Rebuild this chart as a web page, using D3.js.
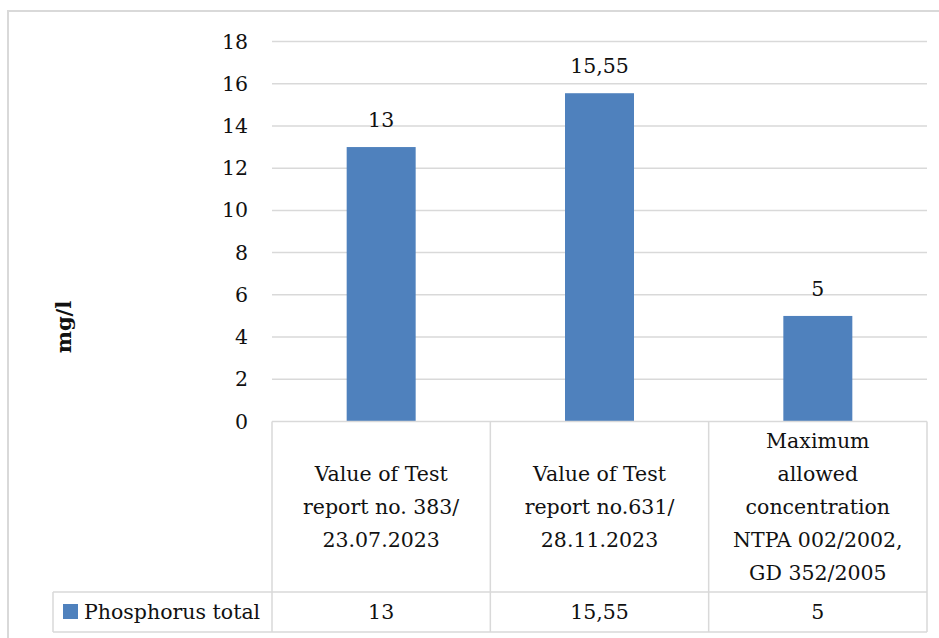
<!DOCTYPE html>
<html>
<head>
<meta charset="utf-8">
<script src="https://cdn.jsdelivr.net/npm/d3@7"></script>
<style>
  html, body { margin: 0; padding: 0; background: #fff; }
  svg { display: block; }
  text { font-family: "DejaVu Serif", "Liberation Serif", serif; fill: #111; }
</style>
</head>
<body>
<svg id="chart" width="939" height="638"></svg>
<script>
// Phosphorus total (mg/l) per measurement
const categories = [
  ["Value of Test", "report no. 383/", "23.07.2023"],
  ["Value of Test", "report no.631/", "28.11.2023"],
  ["Maximum", "allowed", "concentration", "NTPA 002/2002,", "GD 352/2005"]
];
const seriesName = "Phosphorus total";
const values = [13, 15.55, 5];
const yTicks = [0, 2, 4, 6, 8, 10, 12, 14, 16, 18];
const yTitle = "mg/l";

const svg = d3.select("#chart");
const W = 939, H = 638;
const gridColor = "#d9d9d9";
const barColor = "#4f81bd";
const fs = 20.5;

const locale = d3.formatLocale({ decimal: ",", thousands: ".", grouping: [3], currency: ["", ""] });
const fmt = locale.format("~g");

const plotLeft = 272, plotRight = 927, plotTop = 41.5, plotBottom = 421.5;
const tableMid = 592, tableBottom = 632, legendLeft = 53;

const x = d3.scaleBand().domain(d3.range(values.length)).range([plotLeft, plotRight]).padding(0);
const y = d3.scaleLinear().domain([0, 18]).range([plotBottom, plotTop]);
const barW = x.bandwidth() * 0.316;

// outer frame
svg.append("rect")
  .attr("x", 8).attr("y", 11).attr("width", W).attr("height", H)
  .attr("fill", "none").attr("stroke", gridColor).attr("stroke-width", 2);

// gridlines
svg.append("g").selectAll("line").data(yTicks.filter(d => d > 0)).join("line")
  .attr("x1", plotLeft).attr("x2", plotRight)
  .attr("y1", d => y(d)).attr("y2", d => y(d))
  .attr("stroke", gridColor).attr("stroke-width", 1.5);

// y axis labels
const yAxis = d3.axisLeft(y).tickValues(yTicks).tickSize(0).tickPadding(0).tickFormat(d => d);
const yg = svg.append("g").attr("transform", `translate(248,0)`).call(yAxis);
yg.select(".domain").remove();
yg.selectAll("text")
  .attr("font-family", "DejaVu Serif, serif")
  .attr("font-size", fs).attr("fill", "#111").attr("dy", "0.32em");

// y title
svg.append("text")
  .attr("transform", "translate(71,327) rotate(-90)")
  .attr("text-anchor", "middle")
  .attr("font-size", 21).attr("font-weight", "bold")
  .text(yTitle);

// bars
svg.append("g").selectAll("rect").data(values).join("rect")
  .attr("x", (d, i) => x(i) + (x.bandwidth() - barW) / 2)
  .attr("y", d => y(d))
  .attr("width", barW)
  .attr("height", d => y(0) - y(d))
  .attr("fill", barColor);

// value labels
svg.append("g").selectAll("text").data(values).join("text")
  .attr("x", (d, i) => x(i) + x.bandwidth() / 2)
  .attr("y", d => y(d) - 20)
  .attr("text-anchor", "middle")
  .attr("font-size", fs)
  .text(d => fmt(d));

// data table grid
const tg = svg.append("g").attr("stroke", gridColor).attr("stroke-width", 1.5);
tg.append("line").attr("x1", plotLeft).attr("x2", plotRight).attr("y1", plotBottom).attr("y2", plotBottom);
tg.append("line").attr("x1", legendLeft).attr("x2", plotRight).attr("y1", tableMid).attr("y2", tableMid);
tg.append("line").attr("x1", legendLeft).attr("x2", plotRight).attr("y1", tableBottom).attr("y2", tableBottom);
tg.append("line").attr("x1", legendLeft).attr("x2", legendLeft).attr("y1", tableMid).attr("y2", tableBottom);
tg.selectAll("line.col").data(d3.range(values.length + 1)).join("line")
  .attr("class", "col")
  .attr("x1", i => i < values.length ? x(i) : plotRight)
  .attr("x2", i => i < values.length ? x(i) : plotRight)
  .attr("y1", plotBottom).attr("y2", tableBottom);

// category labels (multi-line, centred in their cells)
const lineH = 33, midBase = 513.5;
const cg = svg.append("g");
categories.forEach((lines, i) => {
  const t = cg.append("text")
    .attr("text-anchor", "middle")
    .attr("font-size", fs);
  lines.forEach((ln, j) => {
    t.append("tspan")
      .attr("x", x(i) + x.bandwidth() / 2)
      .attr("y", midBase + (j - (lines.length - 1) / 2) * lineH)
      .text(ln);
  });
});

// table values row
svg.append("g").selectAll("text").data(values).join("text")
  .attr("x", (d, i) => x(i) + x.bandwidth() / 2)
  .attr("y", 619)
  .attr("text-anchor", "middle")
  .attr("font-size", fs)
  .text(d => fmt(d));

// legend key
svg.append("rect").attr("x", 63).attr("y", 604).attr("width", 15).attr("height", 15).attr("fill", barColor);
svg.append("text").attr("x", 84).attr("y", 619).attr("font-size", fs).text(seriesName);
</script>
</body>
</html>
